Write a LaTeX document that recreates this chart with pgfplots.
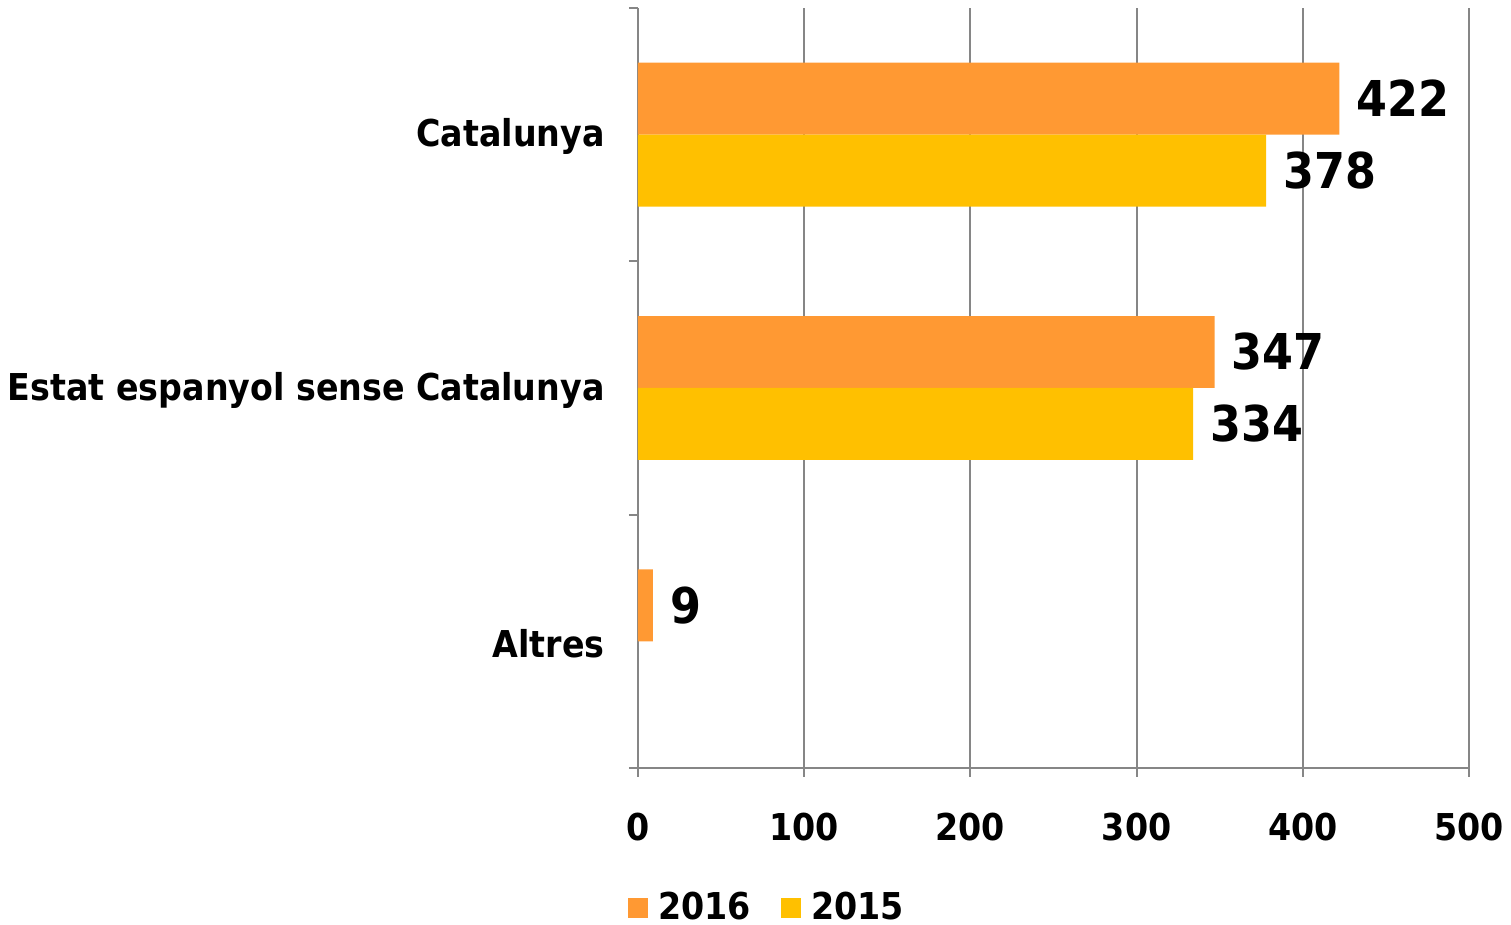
\documentclass[border=0pt]{standalone}
\usepackage{fontspec}
\setmainfont{DejaVu Sans Condensed}
\usepackage{pgfplots}
\pgfplotsset{compat=1.18}
\definecolor{c16}{RGB}{255,153,51}
\definecolor{c15}{RGB}{255,192,0}
\definecolor{gr}{RGB}{134,134,134}
\begin{document}
\begin{tikzpicture}
\useasboundingbox (-319pt,-78.5pt) rectangle (436.5pt,384pt);
\begin{axis}[
  at={(0,0)}, anchor=south west,
  scale only axis, width=415.5pt, height=380pt,
  xmin=0, xmax=500, ymin=-0.5, ymax=2.5,
  xtick={0,100,...,500},
  ytick={-0.5,0.5,1.5,2.5}, yticklabels={},
  extra y ticks={0,1,2},
  extra y tick labels={Altres, Estat espanyol sense Catalunya, Catalunya},
  extra y tick style={tick style={draw=none}, major tick length=0pt,
     yticklabel style={font=\bfseries\fontsize{18.5}{22}\selectfont, inner sep=0pt, xshift=-16.5pt, yshift=-1pt}},
  axis x line*=bottom, axis y line*=left,
  axis line style={gr, line width=1pt},
  xmajorgrids,
  major grid style={gr, line width=1pt},
  tick style={gr, line width=1pt},
  major tick length=4.5pt,
  tick align=outside,
  /pgf/number format/assume math mode=true,
  xticklabel style={font=\bfseries\fontsize{18.5}{22}\selectfont, yshift=-14.5pt},
  legend columns=2,
  legend style={draw=none, at={(0,0)}, anchor=north west, xshift=-5pt, yshift=-62pt,
     inner sep=0pt, font=\bfseries\fontsize{18.5}{22}\selectfont,
     nodes={inner ysep=0pt},
     /tikz/every even column/.append style={column sep=13pt}},
  legend image code/.code={\fill[#1] (0pt,-5pt) rectangle (10pt,5pt); \path (13pt,0pt);},
  nodes near coords, point meta=x,
  nodes near coords style={font=\bfseries\fontsize{24.7}{28}\selectfont, anchor=west, xshift=5pt, text=black},
]
\addplot[xbar, bar width=0.284, bar shift=0.142, fill=c16, draw=none,
  nodes near coords style={yshift=18pt}] coordinates {(422,2) (347,1) (9,0)};
\addplot[xbar, bar width=0.284, bar shift=-0.142, fill=c15, draw=none,
  nodes near coords style={yshift=-18pt}] coordinates {(378,2) (334,1)};
\legend{2016, 2015}
\end{axis}
\end{tikzpicture}
\end{document}
